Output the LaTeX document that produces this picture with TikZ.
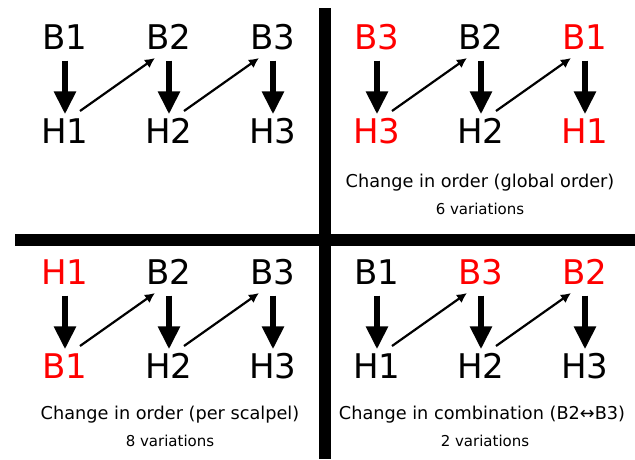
\documentclass[tikz,border=0pt]{standalone}
\usepackage{fontspec}
\setmainfont{DejaVu Sans}
\usetikzlibrary{arrows.meta,positioning}

\begin{document}
\begin{tikzpicture}[x=1pt, y=-1pt, node distance=104pt]
        \tikzstyle{lbl} = [font=\fontsize{34}{34}\selectfont, inner sep=0pt, text height=25pt, text depth=0pt]
        \tikzstyle{moved} = [lbl, text=red]
        \tikzstyle{fall} = [draw, line width=6pt, -{Triangle[length=23pt,width=21pt]}, shorten <=11pt, shorten >=4pt]
        \tikzstyle{link} = [draw, line width=2.2pt, -{Latex[length=10pt,width=10pt]}]
        \tikzstyle{desc} = [font=\fontsize{17.7}{19}\selectfont, inner sep=0pt]
        \tikzstyle{count} = [font=\fontsize{15}{16}\selectfont, inner sep=0pt]
        \useasboundingbox (0,0) rectangle (635,459);

        % dividers
        \fill (319,8) rectangle (331,459);
        \fill (15,234) rectangle (635,246);

        % original
        \node [lbl] (oB1) at (65,37) {B1};
        \node [lbl, right of=oB1] (oB2) {B2};
        \node [lbl, right of=oB2] (oB3) {B3};
        \node [lbl] (oH1) at (65,131) {H1};
        \node [lbl, right of=oH1] (oH2) {H2};
        \node [lbl, right of=oH2] (oH3) {H3};

        % global order
        \node [moved] (gB3) at (377,37) {B3};
        \node [lbl, right of=gB3] (gB2) {B2};
        \node [moved, right of=gB2] (gB1) {B1};
        \node [moved] (gH3) at (377,131) {H3};
        \node [lbl, right of=gH3] (gH2) {H2};
        \node [moved, right of=gH2] (gH1) {H1};
        \node [desc] (gdesc) at (480,183) {Change in order (global order)};
        \node [count] (gcount) at (480,209) {6 variations};

        % per scalpel
        \node [moved] (sH1) at (65,272) {H1};
        \node [lbl, right of=sH1] (sB2) {B2};
        \node [lbl, right of=sB2] (sB3) {B3};
        \node [moved] (sB1) at (65,366) {B1};
        \node [lbl, right of=sB1] (sH2) {H2};
        \node [lbl, right of=sH2] (sH3) {H3};
        \node [desc] (sdesc) at (170,415) {Change in order (per scalpel)};
        \node [count] (scount) at (170,441) {8 variations};

        % combination
        \node [lbl] (cB1) at (377,272) {B1};
        \node [moved, right of=cB1] (cB3) {B3};
        \node [moved, right of=cB3] (cB2) {B2};
        \node [lbl] (cH1) at (377,366) {H1};
        \node [lbl, right of=cH1] (cH2) {H2};
        \node [lbl, right of=cH2] (cH3) {H3};
        \node [desc] (cdesc) at (482,415) {Change in combination (B2↔B3)};
        \node [count] (ccount) at (485,441) {2 variations};

        \path [fall] (oB1) -- (oH1);
        \path [fall] (oB2) -- (oH2);
        \path [fall] (oB3) -- (oH3);
        \path [fall] (gB3) -- (gH3);
        \path [fall] (gB2) -- (gH2);
        \path [fall] (gB1) -- (gH1);
        \path [fall] (sH1) -- (sB1);
        \path [fall] (sB2) -- (sH2);
        \path [fall] (sB3) -- (sH3);
        \path [fall] (cB1) -- (cH1);
        \path [fall] (cB3) -- (cH2);
        \path [fall] (cB2) -- (cH3);

        \path [link] ([xshift=15pt,yshift=20pt]oH1.center) -- ([xshift=-14pt,yshift=-21pt]oB2.center);
        \path [link] ([xshift=15pt,yshift=20pt]oH2.center) -- ([xshift=-14pt,yshift=-21pt]oB3.center);
        \path [link] ([xshift=15pt,yshift=20pt]gH3.center) -- ([xshift=-14pt,yshift=-21pt]gB2.center);
        \path [link] ([xshift=15pt,yshift=20pt]gH2.center) -- ([xshift=-14pt,yshift=-21pt]gB1.center);
        \path [link] ([xshift=15pt,yshift=20pt]sB1.center) -- ([xshift=-14pt,yshift=-21pt]sB2.center);
        \path [link] ([xshift=15pt,yshift=20pt]sH2.center) -- ([xshift=-14pt,yshift=-21pt]sB3.center);
        \path [link] ([xshift=15pt,yshift=20pt]cH1.center) -- ([xshift=-14pt,yshift=-21pt]cB3.center);
        \path [link] ([xshift=15pt,yshift=20pt]cH2.center) -- ([xshift=-14pt,yshift=-21pt]cB2.center);
    \end{tikzpicture}
\end{document}
